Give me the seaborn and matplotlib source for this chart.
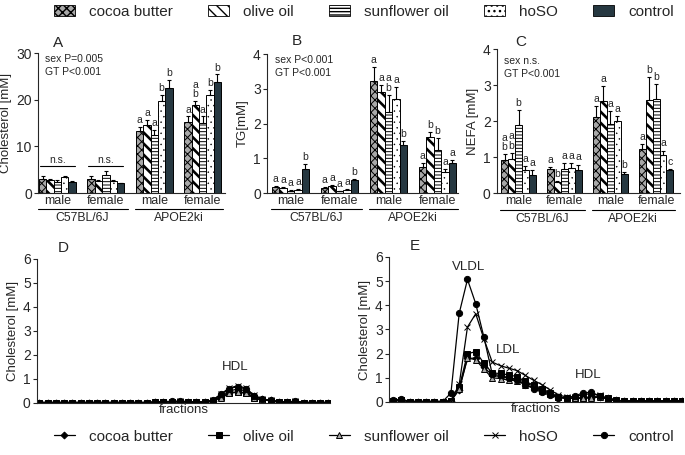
import numpy as np
import pandas as pd
import matplotlib
matplotlib.use("Agg")
import matplotlib.pyplot as plt
from matplotlib.patches import Patch
from matplotlib.lines import Line2D
import seaborn as sns

diets = ["cocoa butter", "olive oil", "sunflower oil", "hoSO", "control"]
groups = ["C57BL/6J male", "C57BL/6J female", "APOE2ki male", "APOE2ki female"]
sex_labels = ["male", "female", "male", "female"]
strains = ["C57BL/6J", "APOE2ki"]

# rows = groups, cols = diets
chol_mean = [[3.1, 2.7, 2.4, 3.5, 2.4],
             [3.1, 2.5, 3.8, 2.6, 2.1],
             [13.3, 14.5, 12.5, 19.7, 22.5],
             [15.2, 18.8, 15.1, 21.1, 23.8]]
chol_err = [[0.6, 0.3, 0.3, 0.2, 0.1],
            [0.6, 0.2, 0.9, 0.1, 0.1],
            [0.8, 1.1, 1.0, 1.4, 1.8],
            [1.2, 0.9, 1.3, 0.9, 1.6]]
chol_letters = [["", "", "", "", ""],
                ["", "", "", "", ""],
                ["a", "a", "a", "b", "b"],
                ["a", "a\nb", "a", "b", "b"]]

tg_mean = [[0.18, 0.15, 0.07, 0.1, 0.7],
           [0.13, 0.2, 0.05, 0.1, 0.38],
           [3.22, 2.92, 2.33, 2.7, 1.37],
           [0.75, 1.6, 1.24, 0.6, 0.85]]
tg_err = [[0.03, 0.03, 0.02, 0.02, 0.13],
          [0.03, 0.02, 0.01, 0.02, 0.03],
          [0.4, 0.2, 0.5, 0.35, 0.13],
          [0.1, 0.15, 0.35, 0.1, 0.1]]
tg_letters = [["a", "a", "a", "a", "b"],
              ["a", "a", "a", "a", "b"],
              ["a", "a", "a\nb", "a", "b"],
              ["a", "b", "b", "a", "a"]]

nefa_mean = [[0.92, 0.94, 1.9, 0.65, 0.49],
             [0.67, 0.3, 0.68, 0.69, 0.65],
             [2.12, 2.55, 1.92, 1.99, 0.52],
             [1.21, 2.57, 2.62, 1.06, 0.63]]
nefa_err = [[0.15, 0.17, 0.41, 0.1, 0.15],
            [0.05, 0.02, 0.15, 0.15, 0.14],
            [0.3, 0.42, 0.35, 0.14, 0.05],
            [0.16, 0.66, 0.41, 0.12, 0.03]]
nefa_letters = [["a\nb", "a\nb", "b", "a", "a"],
                ["a", "b", "a", "a", "a"],
                ["a", "a", "a", "a", "b"],
                ["a", "b", "b", "a", "c"]]

# lipoprotein profiles, fractions 1..36
fractions = list(range(36))
d_cocoa = [0.02, 0.02, 0.02, 0.02, 0.02, 0.02, 0.02, 0.02, 0.02, 0.02, 0.02, 0.02,
           0.02, 0.02, 0.04, 0.05, 0.06, 0.06, 0.05, 0.04, 0.04, 0.1, 0.3, 0.5,
           0.58, 0.5, 0.28, 0.15, 0.12, 0.05, 0.04, 0.06, 0.02, 0.02, 0.02, 0.02]
d_olive = [0.02, 0.02, 0.02, 0.02, 0.02, 0.02, 0.02, 0.02, 0.02, 0.02, 0.02, 0.02,
           0.02, 0.02, 0.03, 0.04, 0.05, 0.05, 0.04, 0.03, 0.03, 0.08, 0.25, 0.42,
           0.47, 0.42, 0.22, 0.12, 0.1, 0.04, 0.03, 0.05, 0.02, 0.02, 0.02, 0.02]
d_sunflower = [0.02, 0.02, 0.02, 0.02, 0.02, 0.02, 0.02, 0.02, 0.02, 0.02, 0.02, 0.02,
               0.02, 0.02, 0.03, 0.04, 0.04, 0.05, 0.04, 0.03, 0.03, 0.07, 0.22, 0.4,
               0.45, 0.4, 0.2, 0.12, 0.1, 0.04, 0.03, 0.04, 0.02, 0.02, 0.02, 0.02]
d_hoso = [0.02, 0.02, 0.02, 0.02, 0.02, 0.02, 0.02, 0.02, 0.02, 0.02, 0.02, 0.02,
          0.02, 0.02, 0.04, 0.05, 0.06, 0.07, 0.06, 0.04, 0.04, 0.12, 0.38, 0.62,
          0.72, 0.62, 0.32, 0.16, 0.12, 0.05, 0.04, 0.07, 0.02, 0.02, 0.02, 0.02]
d_control = [0.02, 0.02, 0.02, 0.02, 0.02, 0.02, 0.02, 0.02, 0.02, 0.02, 0.02, 0.02,
             0.02, 0.02, 0.04, 0.06, 0.07, 0.07, 0.06, 0.05, 0.04, 0.12, 0.36, 0.6,
             0.68, 0.58, 0.3, 0.16, 0.12, 0.05, 0.04, 0.08, 0.02, 0.02, 0.02, 0.02]

e_cocoa = [0.05, 0.08, 0.02, 0.02, 0.02, 0.02, 0.02, 0.04, 0.5, 1.8, 1.82, 1.45,
           1.1, 1.05, 1.0, 0.95, 0.8, 0.65, 0.5, 0.35, 0.2, 0.15, 0.15, 0.16,
           0.18, 0.2, 0.15, 0.07, 0.04, 0.04, 0.04, 0.04, 0.04, 0.04, 0.04, 0.04]
e_olive = [0.05, 0.1, 0.02, 0.02, 0.02, 0.02, 0.02, 0.05, 0.6, 2.0, 2.08, 1.6,
           1.2, 1.18, 1.12, 1.05, 0.85, 0.7, 0.55, 0.38, 0.22, 0.16, 0.16, 0.18,
           0.22, 0.25, 0.18, 0.08, 0.04, 0.04, 0.04, 0.04, 0.04, 0.04, 0.04, 0.04]
e_sunflower = [0.04, 0.06, 0.02, 0.02, 0.02, 0.02, 0.02, 0.04, 0.55, 1.82, 1.75, 1.35,
               1.0, 0.97, 0.9, 0.88, 0.72, 0.6, 0.45, 0.32, 0.2, 0.15, 0.15, 0.16,
               0.18, 0.2, 0.15, 0.07, 0.04, 0.04, 0.04, 0.04, 0.04, 0.04, 0.04, 0.04]
e_hoso = [0.05, 0.08, 0.02, 0.02, 0.02, 0.02, 0.02, 0.05, 0.73, 3.1, 3.65, 2.6,
          1.65, 1.5, 1.4, 1.3, 1.1, 0.9, 0.72, 0.5, 0.3, 0.2, 0.22, 0.3,
          0.35, 0.28, 0.12, 0.06, 0.04, 0.04, 0.04, 0.04, 0.04, 0.04, 0.04, 0.04]
e_control = [0.08, 0.12, 0.02, 0.02, 0.02, 0.02, 0.02, 0.37, 3.67, 5.07, 4.07, 2.67,
             1.15, 1.1, 1.0, 0.9, 0.72, 0.55, 0.4, 0.28, 0.18, 0.16, 0.25, 0.38,
             0.4, 0.25, 0.1, 0.05, 0.04, 0.03, 0.03, 0.03, 0.03, 0.03, 0.03, 0.03]

bar_face = ["#a8a8a8", "white", "white", "white", "#263841"]
bar_hatch = ["xxxx", "\\\\\\", "-----", "...", ""]
hatch_lw = [0.7, 1.9, 0.7, 0.3, 0.5]

line_markers = ["D", "s", "^", "x", "o"]
line_mface = ["k", "k", "#a8a8a8", "k", "k"]
line_msize = [3.5, 4, 4.5, 5, 4.5]

sns.set_style("ticks")
plt.rcParams["font.family"] = ["Liberation Sans", "DejaVu Sans"]
plt.rcParams["axes.linewidth"] = 0.8

fig = plt.figure(figsize=(6.85, 4.55), dpi=100)


def bar_panel(rect, mean, err, letters, ymax, ylabel, stats, letter_pad, xlim, stats_y):
    ax = fig.add_axes(rect)
    rows = []
    for i, g in enumerate(groups):
        for j, d in enumerate(diets):
            rows.append((g, d, mean[i][j]))
    df = pd.DataFrame(rows, columns=["group", "diet", "value"])
    sns.barplot(data=df, x="group", y="value", hue="diet", order=groups, hue_order=diets,
                palette=dict(zip(diets, bar_face)), width=0.76, gap=0, errorbar=None,
                saturation=1, edgecolor="k", linewidth=0.7, legend=False, ax=ax)
    bar_sets = list(ax.containers)
    for j, cont in enumerate(bar_sets):
        for i, p in enumerate(cont.patches):
            p.set_hatch(bar_hatch[j])
            if hasattr(p, "set_hatch_linewidth"):
                p.set_hatch_linewidth(hatch_lw[j])
            xc = p.get_x() + p.get_width() / 2
            ax.errorbar(xc, mean[i][j], yerr=[[0], [err[i][j]]], fmt="none", ecolor="k",
                        elinewidth=0.8, capsize=1.6, capthick=0.8)
            if letters[i][j]:
                ax.text(xc, mean[i][j] + err[i][j] + letter_pad, letters[i][j],
                        ha="center", va="bottom", fontsize=7.5, linespacing=0.95)
    ax.set_xlim(*xlim)
    ax.set_ylim(0, ymax)
    ax.set_yticks(np.linspace(0, ymax, 4 if ymax == 30 else 5))
    ax.set_xticks(range(4))
    ax.set_xticklabels(sex_labels)
    ax.tick_params(axis="x", length=0, pad=1.5, labelsize=9)
    ax.tick_params(axis="y", length=3, width=0.8, pad=1.5, labelsize=10)
    ax.set_xlabel("")
    ax.set_ylabel(ylabel, fontsize=9.5, labelpad=3)
    sns.despine(ax=ax)
    trans = ax.get_xaxis_transform()
    ax.plot([-0.4, 1.45], [-0.115, -0.115], transform=trans, clip_on=False, color="k", lw=0.8)
    ax.plot([1.6, 3.42], [-0.115, -0.115], transform=trans, clip_on=False, color="k", lw=0.8)
    ax.text(0.52, -0.18, strains[0], transform=trans, ha="center", va="center", fontsize=8.8)
    ax.text(2.5, -0.18, strains[1], transform=trans, ha="center", va="center", fontsize=8.8)
    ax.text(0.04, stats_y, stats, transform=ax.transAxes, ha="left", va="top",
            fontsize=7.5, linespacing=1.3)
    return ax


axA = bar_panel([0.0555, 0.5758, 0.273, 0.3077], chol_mean, chol_err, chol_letters, 30,
                "Cholesterol [mM]", "sex P=0.005\nGT P<0.001", 0.4, (-0.4, 3.46), 0.99)
axA.text(0.08, 1.07, "A", transform=axA.transAxes, fontsize=11, va="center")
for gx in [0, 1]:
    axA.plot([gx - 0.36, gx + 0.36], [5.7, 5.7], color="k", lw=0.8)
    axA.text(gx, 6.1, "n.s.", ha="center", va="bottom", fontsize=7.5)

axB = bar_panel([0.3898, 0.5758, 0.279, 0.3055], tg_mean, tg_err, tg_letters, 4,
                "TG[mM]", "sex P<0.001\nGT P<0.001", 0.06, (-0.48, 3.42), 0.99)
axB.text(0.13, 1.09, "B", transform=axB.transAxes, fontsize=11, va="center")

axC = bar_panel([0.7255, 0.5758, 0.267, 0.3165], nefa_mean, nefa_err, nefa_letters, 4,
                "NEFA [mM]", "sex n.s.\nGT P<0.001", 0.06, (-0.47, 3.52), 0.95)
axC.text(0.1, 1.05, "C", transform=axC.transAxes, fontsize=11, va="center")

d_series = [d_cocoa, d_olive, d_sunflower, d_hoso, d_control]
e_series = [e_cocoa, e_olive, e_sunflower, e_hoso, e_control]


def profile_panel(rect, series, xlim, letter):
    ax = fig.add_axes(rect)
    for k, vals in enumerate(series):
        sns.lineplot(x=fractions, y=vals, ax=ax, color="k", linewidth=0.9,
                     marker=line_markers[k], markersize=line_msize[k],
                     markerfacecolor=line_mface[k], markeredgecolor="k",
                     markeredgewidth=0.7)
    ax.set_xlim(*xlim)
    ax.set_ylim(0, 6)
    ax.set_yticks(range(7))
    ax.set_xticks([])
    ax.tick_params(axis="y", length=3, width=0.8, pad=1.5, labelsize=10)
    ax.set_xlabel("fractions", fontsize=9.5, labelpad=1)
    ax.set_ylabel("Cholesterol [mM]", fontsize=9.5, labelpad=3)
    sns.despine(ax=ax)
    ax.text(0.07, 1.075, letter, transform=ax.transAxes, fontsize=11, va="center")
    return ax


axD = profile_panel([0.054, 0.1143, 0.4277, 0.3165], d_series, (-0.3, 35.2), "D")
axD.text(23.7, 1.5, "HDL", ha="center", va="center", fontsize=9.5)

axE = profile_panel([0.5679, 0.1165, 0.4292, 0.3187], e_series, (-0.5, 35.1), "E")
axE.text(9.1, 5.6, "VLDL", ha="center", va="center", fontsize=9.5)
axE.text(13.9, 2.15, "LDL", ha="center", va="center", fontsize=9.5)
axE.text(23.6, 1.1, "HDL", ha="center", va="center", fontsize=9.5)

# legends
bar_handles = []
for j in range(5):
    p = Patch(facecolor=bar_face[j], edgecolor="k", hatch=bar_hatch[j], linewidth=0.6)
    if hasattr(p, "set_hatch_linewidth"):
        p.set_hatch_linewidth(hatch_lw[j])
    bar_handles.append(p)
line_handles = [Line2D([0], [0], color="k", lw=0.9, marker=line_markers[k],
                       markersize=line_msize[k], markerfacecolor=line_mface[k],
                       markeredgecolor="k", markeredgewidth=0.7) for k in range(5)]

leg_font = {"family": ["Liberation Sans", "DejaVu Sans"], "size": 11}
fig.legend(bar_handles, diets, loc="center", bbox_to_anchor=(0.531, 0.974), ncol=5,
           frameon=False, prop=leg_font, handlelength=1.4, handleheight=0.8,
           handletextpad=0.9, columnspacing=2.3)
fig.legend(line_handles, diets, loc="center", bbox_to_anchor=(0.531, 0.04), ncol=5,
           frameon=False, prop=leg_font, handlelength=1.4,
           handletextpad=0.9, columnspacing=2.3)

fig.savefig("out.png", dpi=100)
